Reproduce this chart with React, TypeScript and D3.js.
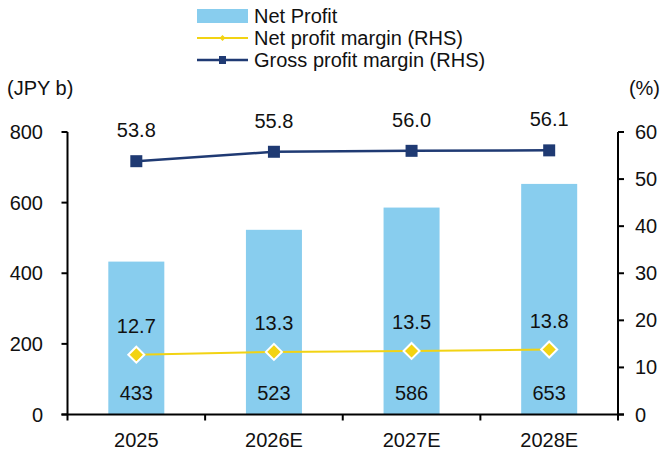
import React from "react";
import * as d3 from "d3";

const categories = ["2025", "2026E", "2027E", "2028E"];
const netProfit = [433, 523, 586, 653];
const netMargin = [12.7, 13.3, 13.5, 13.8];
const grossMargin = [53.8, 55.8, 56.0, 56.1];
const leftTicks = [0, 200, 400, 600, 800];
const rightTicks = [0, 10, 20, 30, 40, 50, 60];

const W = 661, H = 450;
const L = 67.5, R = 618, T = 132, B = 414.5;
const FONT = "'Liberation Sans', Arial, sans-serif";
const FS = 20;
const BAR = "#88CDEE";
const NAVY = "#1F3A73";
const YEL = "#F2D313";

export default function App() {
  const x = d3.scaleBand().domain(categories).range([L, R]).paddingInner(0.593).paddingOuter(0.2965);
  const yL = d3.scaleLinear().domain([0, 800]).range([B, T]);
  const yR = d3.scaleLinear().domain([0, 60]).range([B, T]);
  const cx = (c: string) => (x(c) as number) + x.bandwidth() / 2;
  const lineG = d3.line<number>().x((_, i) => cx(categories[i])).y((d) => yR(d));
  const step = (R - L) / categories.length;
  return (
    <svg width={W} height={H} style={{ position: "absolute", left: 0, top: 0 }} fontFamily={FONT}>
      {netProfit.map((v, i) => (
        <rect key={i} x={x(categories[i])} y={yL(v)} width={x.bandwidth()} height={B - yL(v)} fill={BAR} />
      ))}
      <path d={lineG(grossMargin) || ""} fill="none" stroke={NAVY} strokeWidth={2.5} />
      <path d={lineG(netMargin) || ""} fill="none" stroke={YEL} strokeWidth={2} />
      {grossMargin.map((v, i) => (
        <rect key={i} x={cx(categories[i]) - 6} y={yR(v) - 6} width={12} height={12} fill={NAVY} />
      ))}
      {netMargin.map((v, i) => {
        const px = cx(categories[i]), py = yR(v);
        return (
          <path key={i} d={`M${px},${py - 8}L${px + 8},${py}L${px},${py + 8}L${px - 8},${py}Z`} fill={YEL} stroke="#fff" strokeWidth={2} />
        );
      })}
      {netProfit.map((v, i) => (
        <text key={i} x={cx(categories[i])} y={yL(0) - 22} textAnchor="middle" dominantBaseline="central" fontSize={FS} fill="#111">{v}</text>
      ))}
      {netMargin.map((v, i) => (
        <text key={i} x={cx(categories[i])} y={yR(v) - 29} textAnchor="middle" dominantBaseline="central" fontSize={FS} fill="#111">{v.toFixed(1)}</text>
      ))}
      {grossMargin.map((v, i) => (
        <text key={i} x={cx(categories[i])} y={yR(v) - 31} textAnchor="middle" dominantBaseline="central" fontSize={FS} fill="#111">{v.toFixed(1)}</text>
      ))}
      <line x1={L} x2={L} y1={T} y2={B} stroke="#000" strokeWidth={2} />
      <line x1={R} x2={R} y1={T} y2={B} stroke="#000" strokeWidth={2} />
      <line x1={L - 6} x2={R + 6} y1={B} y2={B} stroke="#000" strokeWidth={2} />
      {leftTicks.map((t) => (
        <g key={t}>
          <line x1={L - 6} x2={L} y1={yL(t)} y2={yL(t)} stroke="#000" strokeWidth={2} />
          <text x={L - 24.5} y={yL(t)} textAnchor="end" dominantBaseline="central" fontSize={FS} fill="#111">{t}</text>
        </g>
      ))}
      {rightTicks.map((t) => (
        <g key={t}>
          <line x1={R} x2={R + 6} y1={yR(t)} y2={yR(t)} stroke="#000" strokeWidth={2} />
          <text x={R + 17} y={yR(t)} textAnchor="start" dominantBaseline="central" fontSize={FS} fill="#111">{t}</text>
        </g>
      ))}
      {d3.range(categories.length + 1).map((i) => (
        <line key={i} x1={L + i * step} x2={L + i * step} y1={B} y2={B + 6} stroke="#000" strokeWidth={2} />
      ))}
      {categories.map((c) => (
        <text key={c} x={cx(c)} y={B + 25} textAnchor="middle" dominantBaseline="central" fontSize={FS} fill="#111">{c}</text>
      ))}
      <text x={7} y={88} dominantBaseline="central" fontSize={FS} fill="#111">(JPY b)</text>
      <text x={660} y={88} textAnchor="end" dominantBaseline="central" fontSize={FS} fill="#111">(%)</text>
      <rect x={197} y={9} width={51} height={14} fill={BAR} />
      <text x={254} y={16} dominantBaseline="central" fontSize={FS} fill="#111">Net Profit</text>
      <line x1={197} x2={248} y1={38} y2={38} stroke={YEL} strokeWidth={2} />
      <path d="M222.5,35L225.5,38L222.5,41L219.5,38Z" fill={YEL} />
      <text x={254} y={38} dominantBaseline="central" fontSize={FS} fill="#111">Net profit margin (RHS)</text>
      <line x1={197} x2={248} y1={60} y2={60} stroke={NAVY} strokeWidth={2.5} />
      <rect x={219} y={56} width={7} height={8} fill={NAVY} />
      <text x={254} y={60} dominantBaseline="central" fontSize={FS} fill="#111">Gross profit margin (RHS)</text>
    </svg>
  );
}
